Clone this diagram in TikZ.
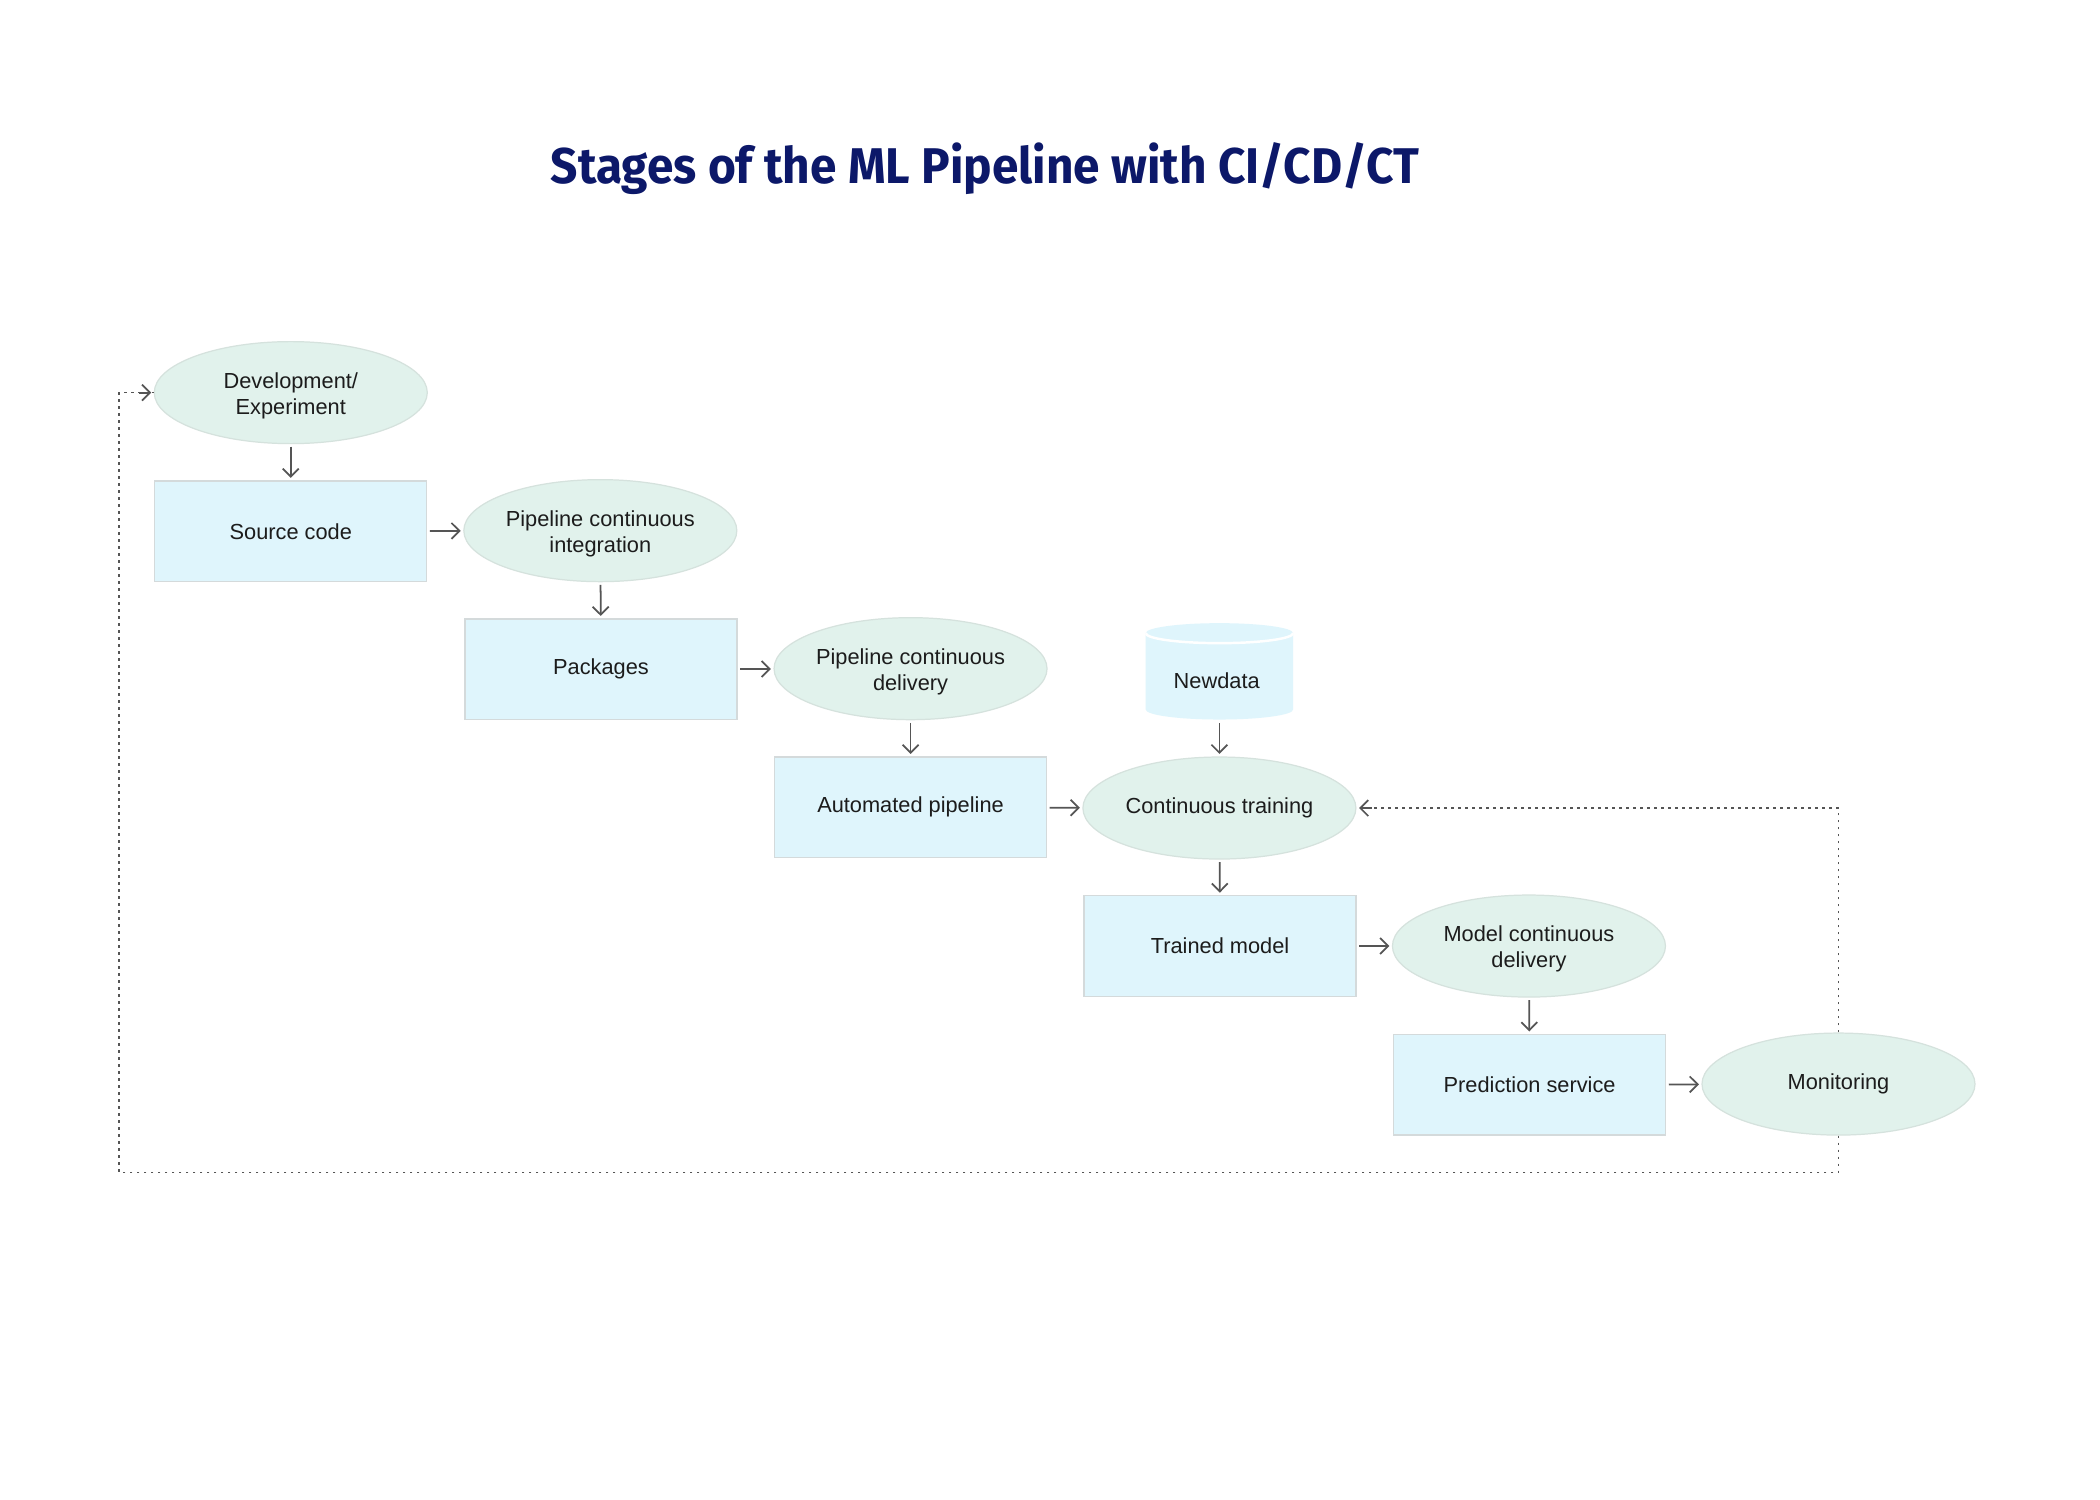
\documentclass[tikz,border=0pt]{standalone}
\usepackage{fontspec}
\setmainfont{Liberation Sans}
\newfontfamily\titlefont{Fira Sans}
\usetikzlibrary{arrows.meta,shapes.geometric}
\definecolor{rectfill}{HTML}{DFF5FC}
\definecolor{rectdraw}{HTML}{D4DADB}
\definecolor{ellfill}{HTML}{E1F2EC}
\definecolor{elldraw}{HTML}{D5E2DD}
\definecolor{arrcol}{HTML}{555555}
\definecolor{txtcol}{HTML}{1C1C1C}
\definecolor{titlecol}{HTML}{0C1869}
\newcommand{\toppad}{\rule{0pt}{6.1pt}}
\tikzset{
  txt/.style={font=\fontsize{6.2}{7.4}\selectfont, text=txtcol, align=center, inner sep=0pt},
  procbox/.style={txt, rectangle, fill=rectfill, draw=rectdraw, line width=0.35pt, minimum width=27.2mm, minimum height=10.05mm},
  stagebox/.style={txt, ellipse, fill=ellfill, draw=elldraw, line width=0.35pt, minimum width=27.3mm, minimum height=10.2mm},
  arr/.style={draw=arrcol, line width=0.5pt, -{Straight Barb[length=0.8mm,width=1.6mm]}, shorten <=0.25mm, shorten >=0.25mm},
  dotline/.style={draw=arrcol, line width=0.45pt, dash pattern=on 0.25mm off 0.45mm},
}
\begin{document}
\begin{tikzpicture}[x=0.134mm, y=-0.134mm]
\useasboundingbox (0,0) rectangle (1567.16,1119.4);
\fill[white] (0,0) rectangle (1567.16,1119.4);

\node[inner sep=0pt, text=titlecol] (title) at (735,126)
  {\scalebox{1}[1.05]{\titlefont\bfseries\fontsize{13.6}{16}\selectfont Stages of the ML Pipeline with CI/CD/CT}};

% cylinder
\fill[rectfill] (855,472.5) -- (855,529.5) arc[start angle=180, end angle=360, x radius=7.37mm, y radius=1mm]
  -- (965,472.5) arc[start angle=0, end angle=180, x radius=7.37mm, y radius=1mm] -- cycle;
\draw[white, line width=0.7pt] (855,472.5) arc[start angle=180, end angle=360, x radius=7.37mm, y radius=1mm];
\node[minimum width=14.74mm, minimum height=9.75mm, inner sep=0pt] (nd) at (910,501) {};
\node[txt] (ndt) at (908,508) {Newdata};

\node[stagebox] (dev) at (217,293) {\toppad Development/\\Experiment};
\node[procbox] (src) at (217,396.5) {Source code};
\node[stagebox] (pci) at (448,396) {\toppad Pipeline continuous\\integration};
\node[procbox] (pkg) at (448.5,499.5) {Packages};
\node[stagebox] (pcd) at (679.5,499) {\toppad Pipeline continuous\\delivery};
\node[procbox] (aut) at (679.5,602.5) {Automated pipeline};
\node[stagebox] (ct) at (910,603) {Continuous training};
\node[procbox] (tm) at (910.5,706) {Trained model};
\node[stagebox] (mcd) at (1141,706) {\toppad Model continuous\\delivery};
\node[procbox] (ps) at (1141.5,809.5) {Prediction service};
\node[stagebox] (mon) at (1372,809) {Monitoring};

\draw[arr] (dev) -- (src);
\draw[arr] (src) -- (pci);
\draw[arr] (pci) -- (pkg);
\draw[arr] (pkg) -- (pcd);
\draw[arr] (pcd) -- (aut);
\draw[arr] (aut) -- (ct);
\draw[arr] (nd) -- (ct);
\draw[arr] (ct) -- (tm);
\draw[arr] (tm) -- (mcd);
\draw[arr] (mcd) -- (ps);
\draw[arr] (ps) -- (mon);

\coordinate (loopc) at (89,875);
\draw[dotline] (mon.north) |- (ct.east);
\draw[draw=arrcol, line width=0.5pt, -{Straight Barb[length=0.8mm,width=1.6mm]}, shorten >=0.25mm] ([xshift=1.5mm]ct.east) -- (ct.east);
\draw[dotline] (mon.south) |- (loopc) |- (dev.west);
\draw[draw=arrcol, line width=0.5pt, -{Straight Barb[length=0.8mm,width=1.6mm]}, shorten >=0.25mm] ([xshift=-1.5mm]dev.west) -- (dev.west);
\end{tikzpicture}
\end{document}
